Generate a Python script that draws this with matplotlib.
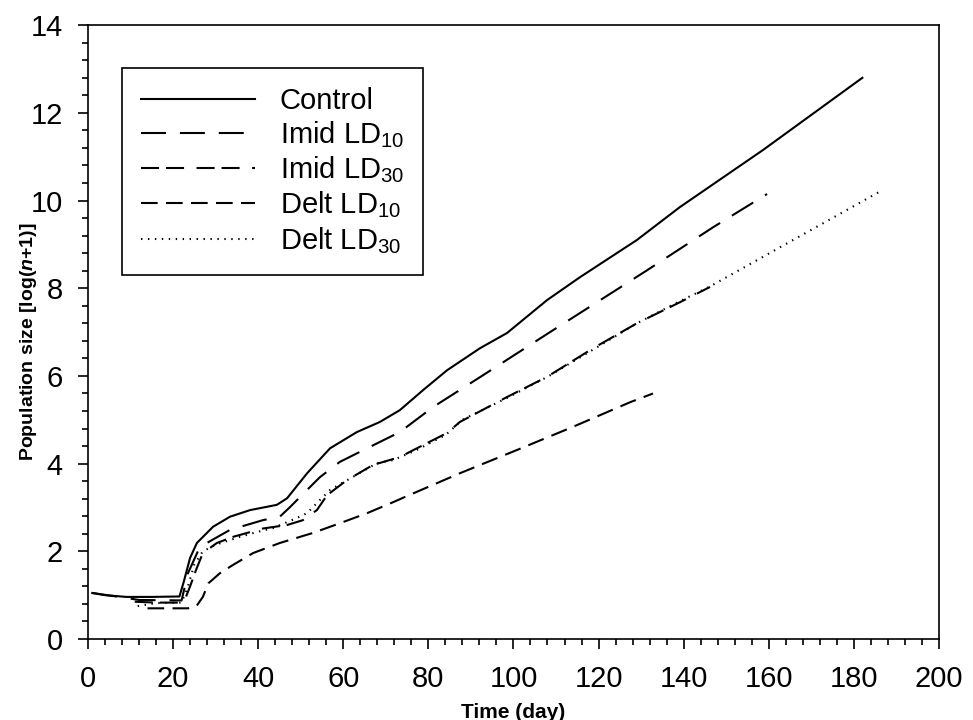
import numpy as np
import matplotlib
matplotlib.use("Agg")
import matplotlib.pyplot as plt
from matplotlib.ticker import MultipleLocator

plt.rcParams['font.family'] = ['Liberation Sans', 'DejaVu Sans']
plt.rcParams['mathtext.fontset'] = 'custom'
plt.rcParams['mathtext.default'] = 'regular'
plt.rcParams['mathtext.it'] = 'Liberation Sans:italic:bold'
plt.rcParams['lines.scale_dashes'] = False

# data (Time in days, log(n+1))
control_x = [1, 4, 9, 15, 21.5, 22.5, 24, 25.6, 29.4, 33.4, 38.1, 44.4, 46.8, 51.5, 56.9,
             63.2, 68.6, 73.3, 78.8, 84.4, 92.1, 98.5, 107.9, 115.6, 129, 139.1, 158.6, 182]
control_y = [1.05, 1.0, 0.96, 0.96, 0.97, 1.3, 1.85, 2.19, 2.56, 2.79, 2.94, 3.06, 3.21, 3.78, 4.35,
             4.72, 4.95, 5.22, 5.68, 6.13, 6.63, 6.98, 7.73, 8.25, 9.1, 9.85, 11.15, 12.8]

imid10_x = [1, 8, 12, 22, 23.5, 26.3, 33.4, 41.1, 45.1, 47.5, 51.5, 54.5, 59.2, 65.6, 73.3,
            81.1, 92.1, 108.6, 119.6, 131.4, 146.9, 159.6]
imid10_y = [1.05, 0.95, 0.89, 0.88, 1.5, 2.1, 2.49, 2.71, 2.79, 3.01, 3.4, 3.69, 4.04, 4.35, 4.72,
            5.29, 5.97, 7.0, 7.68, 8.41, 9.39, 10.15]

imid30_x = [11, 16, 22.5, 24, 25.5, 27, 30.3, 34.1, 41.1, 46.8, 50.5, 53.8, 56.2, 60.8, 67, 73.3,
            77.3, 84.4, 87.4, 98.5, 107.9, 118.7, 129, 139.1, 146.2]
imid30_y = [0.85, 0.83, 0.83, 1.2, 1.6, 1.96, 2.19, 2.33, 2.52, 2.6, 2.71, 2.94, 3.28, 3.62, 3.97, 4.15,
            4.35, 4.7, 4.95, 5.52, 5.98, 6.63, 7.2, 7.68, 8.03]

delt10_x = [14, 23.5, 25.5, 27, 28.3, 31, 34.1, 38.8, 45.1, 52.9, 59.2, 65.6, 71.7, 74.5, 87.4,
            100.8, 114, 127.4, 132.8]
delt10_y = [0.7, 0.7, 0.75, 0.96, 1.27, 1.5, 1.69, 1.96, 2.19, 2.42, 2.64, 2.87, 3.12, 3.24, 3.78,
            4.31, 4.84, 5.4, 5.6]

delt30_x = [11.7, 16, 22, 23.5, 25, 27, 30, 35.7, 39.7, 43.5, 49.1, 51.5, 53.8, 56.9, 67.9, 71.7,
            77, 84, 88, 98.5, 108, 118.7, 129, 139, 146, 162.2, 186]
delt30_y = [0.75, 0.82, 0.83, 1.2, 1.7, 2.0, 2.15, 2.33, 2.44, 2.53, 2.76, 2.87, 3.1, 3.4, 4.01, 4.08,
            4.3, 4.65, 5.0, 5.5, 5.98, 6.6, 7.2, 7.7, 8.03, 8.91, 10.2]

fig = plt.figure(figsize=(9.73, 7.2), dpi=100)
ax = fig.add_axes([0.0904, 0.1125, 0.8746, 0.8525])

lw = 1.5
ax.plot(control_x, control_y, color='black', lw=lw, label='Control')
ax.plot(imid10_x, imid10_y, color='black', lw=lw, dashes=(18, 10), label='Imid LD$_{10}$')
ax.plot(imid30_x, imid30_y, color='black', lw=lw, dashes=(13, 5, 13, 9), label='Imid LD$_{30}$')
ax.plot(delt10_x, delt10_y, color='black', lw=lw, dashes=(12, 6), label='Delt LD$_{10}$')
ax.plot(delt30_x, delt30_y, color='black', lw=lw, dashes=(1, 4), label='Delt LD$_{30}$')

ax.set_xlim(0, 200)
ax.set_ylim(0, 14)
ax.xaxis.set_major_locator(MultipleLocator(20))
ax.xaxis.set_minor_locator(MultipleLocator(4))
ax.yaxis.set_major_locator(MultipleLocator(2))
ax.yaxis.set_minor_locator(MultipleLocator(0.4))
ax.tick_params(which='major', direction='out', length=7, width=1.2, labelsize=21)
ax.tick_params(axis='x', which='major', pad=12)
ax.tick_params(axis='y', which='major', pad=11)
ax.tick_params(which='minor', direction='out', length=4, width=1.2)
for s in ax.spines.values():
    s.set_linewidth(1.2)

ax.set_xlabel('Time (day)', fontsize=15, fontweight='bold')
ax.set_ylabel('Population size [log($\\mathit{n}$+1)]', fontsize=14, fontweight='bold')
ax.xaxis.set_label_coords(0.5, -0.104)
ax.yaxis.set_label_coords(-0.058, 0.485)

leg = ax.legend(loc='upper left', bbox_to_anchor=(0.0, 1.0), bbox_transform=ax.transAxes,
                fontsize=21, handlelength=3.9, handletextpad=0.85, labelspacing=0.15,
                borderpad=0.65, borderaxespad=0, fancybox=False, framealpha=1, edgecolor='black')
leg.get_frame().set_linewidth(1.2)
# place legend box so its upper-left corner sits at about (122, 68) px
x0, y0 = ax.transAxes.inverted().transform((122, 720 - 68))
leg.set_bbox_to_anchor((x0, y0), transform=ax.transAxes)

fig.savefig('out.png', dpi=100)
